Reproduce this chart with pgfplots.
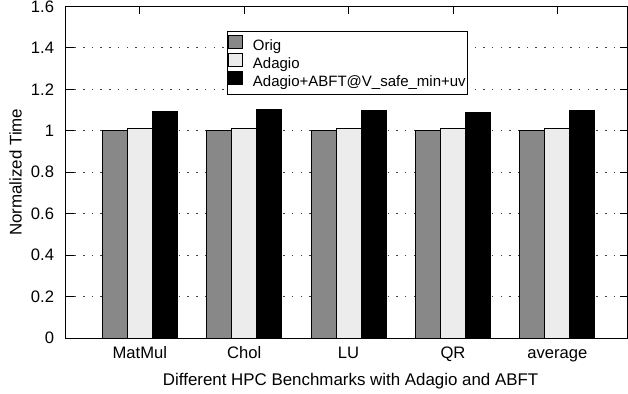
\documentclass[border=0pt]{standalone}
\usepackage{pgfplots}
\pgfplotsset{compat=1.18}
\usepackage{fontspec}
\setmainfont{Liberation Sans}
\definecolor{origgray}{HTML}{888888}
\definecolor{adagiogray}{HTML}{ECECEC}
\begin{document}
\begin{tikzpicture}
\begin{axis}[
  scale only axis, width=562bp, height=332bp,
  xmin=-0.71, xmax=4.673, ymin=0, ymax=1.6,
  ybar=0pt, bar width=0.2395,
  xtick={0,1,2,3,4}, xticklabels={MatMul,Chol,LU,QR,average},
  ytick={0,0.2,0.4,0.6,0.8,1,1.2,1.4,1.6},
  /pgf/number format/assume math mode=true,
  /pgf/number format/fixed,
  ymajorgrids,
  grid style={black!75, line width=0.8bp, dash pattern=on 1.5bp off 7.2bp},
  tick align=inside, major tick length=8bp,
  tick style={black, line width=0.8bp},
  axis line style={line width=0.9bp},
  ticklabel style={font=\fontsize{16.6bp}{19bp}\selectfont},
  yticklabel style={inner sep=0pt, anchor=east, xshift=-11.5bp},
  xticklabel style={inner sep=0pt, anchor=base, yshift=-20bp},
  xlabel={Different HPC Benchmarks with Adagio and ABFT},
  ylabel={Normalized Time},
  label style={font=\fontsize{16.9bp}{19bp}\selectfont},
  xlabel style={at={(axis description cs:0.5,0)}, anchor=base, yshift=-47bp, xshift=4bp, inner sep=0pt},
  ylabel style={at={(axis description cs:0,0.5)}, anchor=center, yshift=50bp, inner sep=0pt},
  legend style={at={(axis description cs:0.287,0.9265)}, anchor=north west,
    draw=black, line width=0.8bp, inner xsep=1bp, inner ysep=3.5bp,
    font=\fontsize{15bp}{17bp}\selectfont,
    nodes={inner sep=0.8bp, text height=11.4bp, text depth=3.7bp},
    row sep=-2bp, column sep=9bp},
  legend cell align=left,
  legend image code/.code={\draw[#1, line width=0.8bp] (3bp,-2bp) rectangle (17bp,11.3bp);},
  every axis plot/.append style={draw=black, line width=0.9bp},
]
\addplot[fill=origgray] coordinates {(0,1) (1,1) (2,1) (3,1) (4,1)};
\addplot[fill=adagiogray] coordinates {(0,1.01) (1,1.01) (2,1.01) (3,1.01) (4,1.01)};
\addplot[fill=black] coordinates {(0,1.092) (1,1.103) (2,1.099) (3,1.088) (4,1.096)};
\legend{Orig,Adagio,{Adagio+ABFT@V\_safe\_min+uv}}
\coordinate (ll) at (rel axis cs:0,0);
\coordinate (ur) at (rel axis cs:1,1);
\end{axis}
\pgfresetboundingbox
\path[use as bounding box] ([shift={(-65.7bp,-55.7bp)}]ll) rectangle ([shift={(0.4bp,6.3bp)}]ur);
\end{tikzpicture}
\end{document}
